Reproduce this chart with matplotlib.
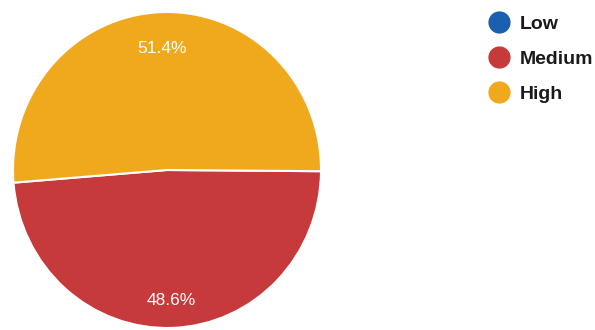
import matplotlib
matplotlib.use('Agg')
import matplotlib.pyplot as plt
import matplotlib.transforms as mtransforms
from matplotlib.lines import Line2D

labels = ['Low', 'Medium', 'High']
values = [0.0, 48.6, 51.4]
colors = ['#1b5fb0', '#c63a3c', '#f0a81d']

plt.rcParams['font.family'] = ['Liberation Sans', 'DejaVu Sans']

W, H = 595, 330
fig = plt.figure(figsize=(W / 100, H / 100), dpi=100)
ax = fig.add_axes([13 / W, 2 / H, 308 / W, 316 / H])

# skip the empty slice so no zero-width wedge/label is drawn
shown = [i for i, v in enumerate(values) if v > 0]
wedges, texts, autotexts = ax.pie(
    [values[i] for i in shown],
    colors=[colors[i] for i in shown],
    startangle=184.6,
    counterclock=True,
    autopct='%.1f%%',
    pctdistance=0.8,
    wedgeprops=dict(edgecolor='white', linewidth=1.5),
    textprops=dict(color='white', fontsize=12.5),
)
ax.set_aspect('auto')
ax.set_xlim(-1.0, 1.0)
ax.set_ylim(-1.0, 1.0)

# nudge the percentage labels a few pixels down
shift = mtransforms.ScaledTranslation(0, -4.5 / 100, fig.dpi_scale_trans)
for t in autotexts:
    t.set_transform(t.get_transform() + shift)

# legend on the right: dot + bold label, one row every 35 px
for k, (lab, c) in enumerate(zip(labels, colors)):
    yc = 22 + 35 * k
    fig.add_artist(Line2D([499 / W], [1 - yc / H], transform=fig.transFigure,
                          marker='o', markersize=15, linestyle='none',
                          markerfacecolor=c, markeredgecolor=c))
    fig.text(520 / W, 1 - (yc + 7) / H, lab, fontsize=14, fontweight='bold',
             color='#1a1a1a', ha='left', va='baseline')

fig.savefig('out.png', dpi=100)
